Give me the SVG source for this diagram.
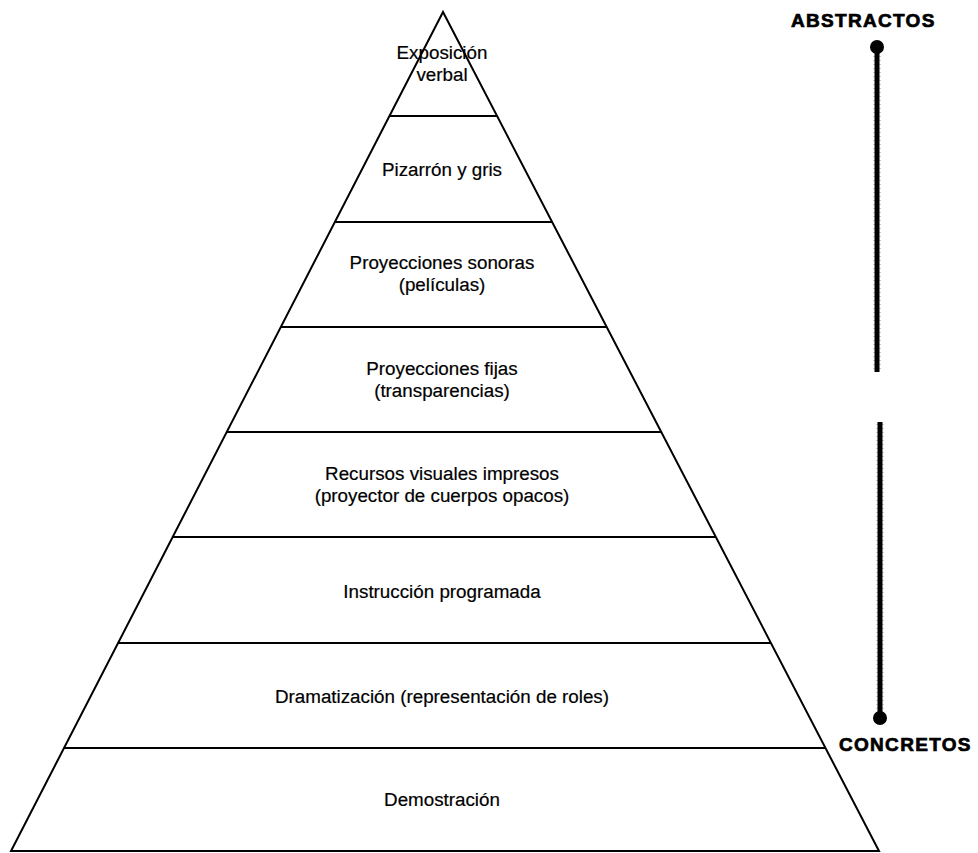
<svg xmlns="http://www.w3.org/2000/svg" width="978" height="853" viewBox="0 0 978 853">
  <style>
    .edge { fill: none; stroke: #000; stroke-width: 2; stroke-linejoin: miter; }
    .tier { stroke: #000; stroke-width: 2.2; }
    .lbl { font-family: "Liberation Sans", Arial, sans-serif; font-size: 18.8px; fill: #000; stroke: #000; stroke-width: 0.2; text-anchor: middle; }
    .tag { font-family: "Liberation Sans", Arial, sans-serif; font-size: 19px; font-weight: bold; letter-spacing: 1.3px; fill: #000; stroke: #000; stroke-width: 0.7; }
    .bar { stroke: #000; stroke-width: 5; stroke-linecap: butt; }
    .halo { stroke: #c8c8c8; stroke-width: 8; stroke-dasharray: 1 3; }
  </style>
  <rect width="978" height="853" fill="#fff"/>

  <!-- pyramid outline -->
  <g id="pyramid">
    <polygon class="edge" points="443,12 11,851 879,851"/>
  </g>

  <!-- tier dividers -->
  <g id="dividers">
    <line class="tier" x1="389" y1="116" x2="497" y2="116"/>
    <line class="tier" x1="335" y1="222" x2="552" y2="222"/>
    <line class="tier" x1="281" y1="327" x2="607" y2="327"/>
    <line class="tier" x1="227" y1="432" x2="662" y2="432"/>
    <line class="tier" x1="173" y1="537" x2="716" y2="537"/>
    <line class="tier" x1="118" y1="643" x2="771" y2="643"/>
    <line class="tier" x1="64" y1="748" x2="825" y2="748"/>
  </g>

  <g id="tier-1">
    <text class="lbl" x="442" y="59">Exposición</text>
    <text class="lbl" x="442" y="81">verbal</text>
  </g>
  <g id="tier-2">
    <text class="lbl" x="442" y="176">Pizarrón y gris</text>
  </g>
  <g id="tier-3">
    <text class="lbl" x="442" y="269">Proyecciones sonoras</text>
    <text class="lbl" x="442" y="291">(películas)</text>
  </g>
  <g id="tier-4">
    <text class="lbl" x="442" y="375">Proyecciones fijas</text>
    <text class="lbl" x="442" y="397">(transparencias)</text>
  </g>
  <g id="tier-5">
    <text class="lbl" x="442" y="480">Recursos visuales impresos</text>
    <text class="lbl" x="442" y="502">(proyector de cuerpos opacos)</text>
  </g>
  <g id="tier-6">
    <text class="lbl" x="442" y="598">Instrucción programada</text>
  </g>
  <g id="tier-7">
    <text class="lbl" x="442" y="703">Dramatización (representación de roles)</text>
  </g>
  <g id="tier-8">
    <text class="lbl" x="442" y="806">Demostración</text>
  </g>

  <!-- abstract / concrete scale -->
  <g id="scale">
    <line class="halo" x1="877" y1="52" x2="877" y2="372"/>
    <line class="bar" x1="877" y1="47" x2="877" y2="372"/>
    <circle cx="877" cy="47" r="7" fill="#000"/>
    <line class="halo" x1="880" y1="424" x2="880" y2="714"/>
    <line class="bar" x1="880" y1="422" x2="880" y2="718"/>
    <circle cx="880" cy="718" r="7" fill="#000"/>
  </g>
  <g id="label-abstractos">
    <text class="tag" x="791" y="27">ABSTRACTOS</text>
  </g>
  <g id="label-concretos">
    <text class="tag" x="839" y="751">CONCRETOS</text>
  </g>
</svg>
